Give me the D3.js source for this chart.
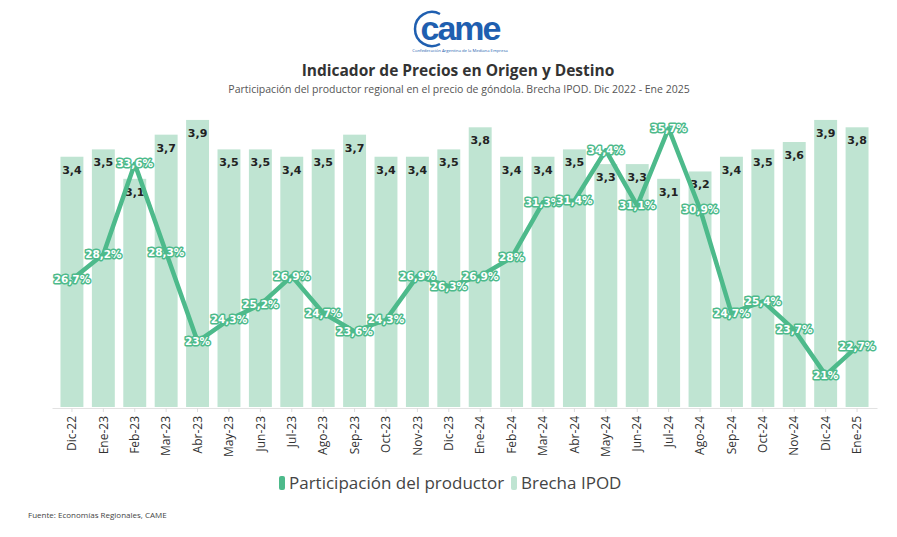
<!DOCTYPE html>
<html><head><meta charset="utf-8">
<script src="https://cdn.jsdelivr.net/npm/d3@7"></script>
<style>body{margin:0;background:#fff;}svg{display:block;}</style>
</head><body>
<svg id="c" width="897" height="537"></svg>
<script>
const months = ["Dic-22","Ene-23","Feb-23","Mar-23","Abr-23","May-23","Jun-23","Jul-23","Ago-23","Sep-23","Oct-23","Nov-23","Dic-23","Ene-24","Feb-24","Mar-24","Abr-24","May-24","Jun-24","Jul-24","Ago-24","Sep-24","Oct-24","Nov-24","Dic-24","Ene-25"];
const brecha = [3.4,3.5,3.1,3.7,3.9,3.5,3.5,3.4,3.5,3.7,3.4,3.4,3.5,3.8,3.4,3.4,3.5,3.3,3.3,3.1,3.2,3.4,3.5,3.6,3.9,3.8];
const participacion = [26.7,28.2,33.6,28.3,23,24.3,25.2,26.9,24.7,23.6,24.3,26.9,26.3,26.9,28,31.3,31.4,34.4,31.1,35.7,30.9,24.7,25.4,23.7,21,22.7];
const legendLabels = ["Participación del productor","Brecha IPOD"];

const svg = d3.select("#c");
const lineColor = "#4dba8b", barColor = "#bfe4d2";
const fmt = v => String(v).replace(".", ",");

// logo
const logo = svg.append("g");
logo.append("text").attr("x",460).attr("y",40).attr("text-anchor","middle")
  .attr("font-family","Arial, Liberation Sans, sans-serif").attr("font-weight","bold")
  .attr("font-size",34).attr("fill","#1f5fb0").attr("letter-spacing",-2).text("came");
logo.append("path").attr("d","M440,14 A17,17 0 1,0 440,44").attr("fill","none").attr("stroke","#1f5fb0").attr("stroke-width",2.5);
logo.append("text").attr("x",460).attr("y",52).attr("text-anchor","middle")
  .attr("font-family","Open Sans, sans-serif").attr("font-size",4.2).attr("fill","#1f5fb0")
  .text("Confederación Argentina de la Mediana Empresa");

svg.append("text").attr("x",458).attr("y",76).attr("text-anchor","middle")
  .attr("font-family","Open Sans, sans-serif").attr("font-weight","bold").attr("font-size",15.5).attr("fill","#333")
  .text("Indicador de Precios en Origen y Destino");
svg.append("text").attr("x",459).attr("y",93).attr("text-anchor","middle")
  .attr("font-family","Open Sans, sans-serif").attr("font-size",10.5).attr("fill","#555")
  .text("Participación del productor regional en el precio de góndola. Brecha IPOD. Dic 2022 - Ene 2025");

const x = d3.scaleBand().domain(months).range([52,877]).paddingInner(0.27).paddingOuter(0.27);
const yBar = d3.scaleLinear().domain([0,4.035]).range([407,110]);
const yLine = d3.scaleLinear().domain([19.1,36.8]).range([407,110]);

svg.append("g").selectAll("rect").data(brecha).join("rect")
  .attr("x",(d,i)=>x(months[i])).attr("width",x.bandwidth())
  .attr("y",d=>yBar(d)).attr("height",d=>yBar(0)-yBar(d)).attr("fill",barColor);

const xAxis = svg.append("g").attr("transform","translate(0,408)")
  .call(d3.axisBottom(x).tickSize(4).tickSizeOuter(0));
xAxis.select(".domain").attr("stroke","#e2e2e2");
xAxis.selectAll(".tick line").attr("stroke","#ddd");
xAxis.selectAll("text").attr("font-family","Open Sans, sans-serif").attr("font-size",12).attr("fill","#333")
  .attr("transform","rotate(-90)").attr("text-anchor","end").attr("x",-8).attr("y",0).attr("dy","0.35em");

svg.append("g").selectAll("text").data(brecha).join("text")
  .attr("x",(d,i)=>x(months[i])+x.bandwidth()/2).attr("y",d=>yBar(d)+17)
  .attr("text-anchor","middle").attr("font-family","DejaVu Sans, sans-serif").attr("font-weight","bold")
  .attr("font-size",11).attr("fill","#222").text(d=>fmt(d));

const line = d3.line().x((d,i)=>x(months[i])+x.bandwidth()/2).y(d=>yLine(d));
svg.append("path").datum(participacion).attr("d",line).attr("fill","none")
  .attr("stroke",lineColor).attr("stroke-width",4.5).attr("stroke-linejoin","round");

svg.append("g").selectAll("text").data(participacion).join("text")
  .attr("x",(d,i)=>x(months[i])+x.bandwidth()/2).attr("y",d=>yLine(d)).attr("dy","0.35em")
  .attr("text-anchor","middle").attr("font-family","DejaVu Sans, sans-serif").attr("font-weight","bold")
  .attr("font-size",10.5).attr("fill","#fff").attr("stroke",lineColor).attr("stroke-width",3)
  .attr("paint-order","stroke").attr("stroke-linejoin","round").text(d=>fmt(d)+"%");

// legend
const lg = svg.append("g");
const items = [{t:legendLabels[0],c:lineColor,x:279},{t:legendLabels[1],c:barColor,x:511}];
items.forEach(it=>{
  lg.append("rect").attr("x",it.x).attr("y",476).attr("width",6).attr("height",14).attr("rx",2).attr("fill",it.c);
  lg.append("text").attr("x",it.x+10).attr("y",489).attr("font-family","Open Sans, sans-serif")
    .attr("font-size",17).attr("fill","#444").text(it.t);
});

svg.append("text").attr("x",28).attr("y",518).attr("font-family","Open Sans, sans-serif")
  .attr("font-size",8).attr("fill","#444").text("Fuente: Economías Regionales, CAME");
</script>
</body></html>
